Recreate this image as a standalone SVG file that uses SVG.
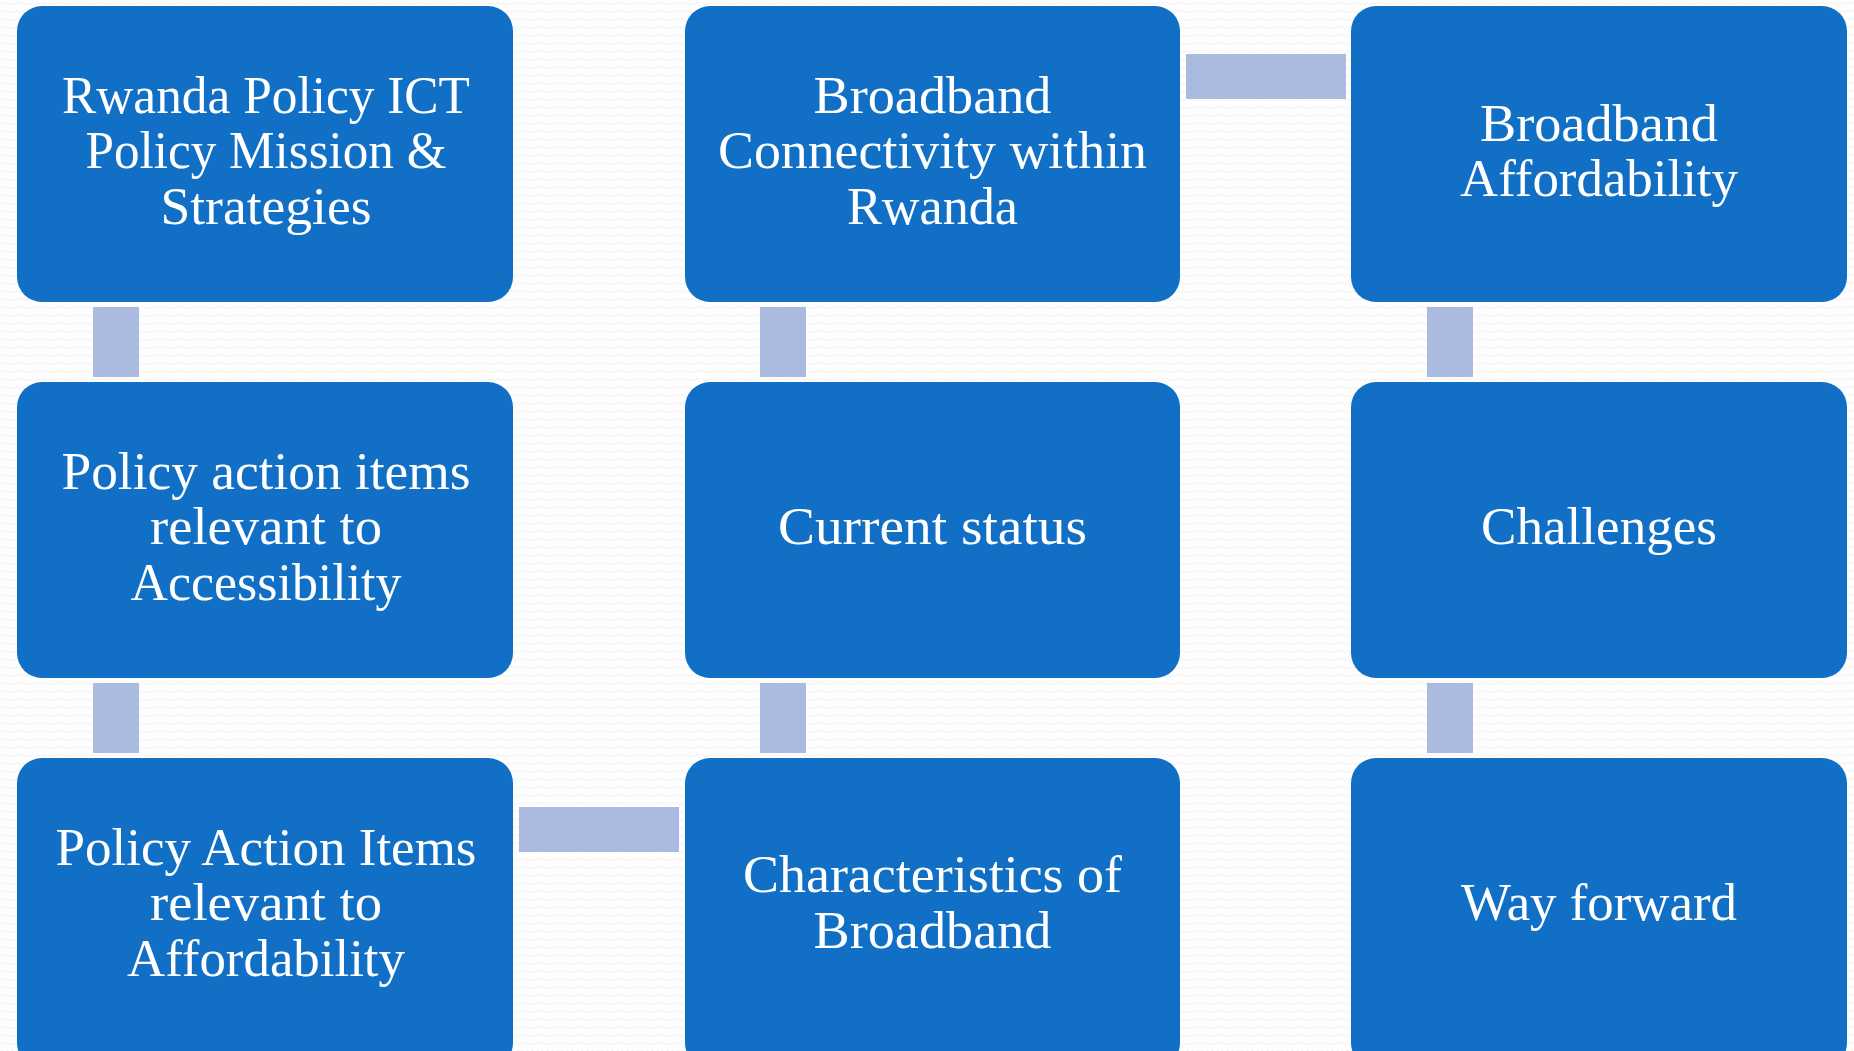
<svg xmlns="http://www.w3.org/2000/svg" width="1854" height="1051" viewBox="0 0 1854 1051">
<defs>
<pattern id="bg" width="10" height="8" patternUnits="userSpaceOnUse">
<rect width="10" height="8" fill="#ffffff"/>
<path d="M0,5 L2.5,2 L5,5 L7.5,2 L10,5" fill="none" stroke="#f0f0f2" stroke-width="1"/>
</pattern>
<style>
.box{fill:#1170C5;}
.conn{fill:#ABBBDF;}
.t{font-family:"Liberation Serif","Times New Roman",serif;font-size:52px;fill:#ffffff;text-anchor:middle;}
</style>
</defs>
<rect width="1854" height="1051" fill="url(#bg)"/>
<g id="connectors">
<rect class="conn" x="93" y="307" width="46" height="70"/>
<rect class="conn" x="93" y="683" width="46" height="70"/>
<rect class="conn" x="760" y="307" width="46" height="70"/>
<rect class="conn" x="760" y="683" width="46" height="70"/>
<rect class="conn" x="1427" y="307" width="46" height="70"/>
<rect class="conn" x="1427" y="683" width="46" height="70"/>
<rect class="conn" x="1186" y="54" width="160" height="45"/>
<rect class="conn" x="519" y="807" width="160" height="45"/>
</g>
<g id="n1">
<rect class="box" x="17" y="6" width="496" height="296" rx="25"/>
<text class="t"><tspan x="266" y="112.7" textLength="408" lengthAdjust="spacingAndGlyphs">Rwanda Policy ICT</tspan><tspan x="266" y="168.3" textLength="361" lengthAdjust="spacingAndGlyphs">Policy Mission &amp;</tspan><tspan x="266" y="223.8" textLength="211" lengthAdjust="spacingAndGlyphs">Strategies</tspan></text>
</g>
<g id="n2">
<rect class="box" x="17" y="382" width="496" height="296" rx="25"/>
<text class="t"><tspan x="266" y="488.7" textLength="409" lengthAdjust="spacingAndGlyphs">Policy action items</tspan><tspan x="266" y="544.3" textLength="232" lengthAdjust="spacingAndGlyphs">relevant to</tspan><tspan x="266" y="599.8" textLength="271" lengthAdjust="spacingAndGlyphs">Accessibility</tspan></text>
</g>
<g id="n3">
<rect class="box" x="17" y="758" width="496" height="310" rx="25"/>
<text class="t"><tspan x="266" y="864.5" textLength="421" lengthAdjust="spacingAndGlyphs">Policy Action Items</tspan><tspan x="266" y="920" textLength="232" lengthAdjust="spacingAndGlyphs">relevant to</tspan><tspan x="266" y="975.6" textLength="278" lengthAdjust="spacingAndGlyphs">Affordability</tspan></text>
</g>
<g id="n4">
<rect class="box" x="685" y="6" width="495" height="296" rx="25"/>
<text class="t"><tspan x="932.5" y="112.7" textLength="238" lengthAdjust="spacingAndGlyphs">Broadband</tspan><tspan x="932.5" y="168.3" textLength="429" lengthAdjust="spacingAndGlyphs">Connectivity within</tspan><tspan x="932.5" y="223.8" textLength="171" lengthAdjust="spacingAndGlyphs">Rwanda</tspan></text>
</g>
<g id="n5">
<rect class="box" x="685" y="382" width="495" height="296" rx="25"/>
<text class="t" x="932.5" y="544.3" textLength="309" lengthAdjust="spacingAndGlyphs">Current status</text>
</g>
<g id="n6">
<rect class="box" x="685" y="758" width="495" height="310" rx="25"/>
<text class="t"><tspan x="932.5" y="892.3" textLength="379" lengthAdjust="spacingAndGlyphs">Characteristics of</tspan><tspan x="932.5" y="947.8" textLength="238" lengthAdjust="spacingAndGlyphs">Broadband</tspan></text>
</g>
<g id="n7">
<rect class="box" x="1351" y="6" width="496" height="296" rx="25"/>
<text class="t"><tspan x="1599" y="140.5" textLength="238" lengthAdjust="spacingAndGlyphs">Broadband</tspan><tspan x="1599" y="196" textLength="278" lengthAdjust="spacingAndGlyphs">Affordability</tspan></text>
</g>
<g id="n8">
<rect class="box" x="1351" y="382" width="496" height="296" rx="25"/>
<text class="t" x="1599" y="544.3" textLength="236" lengthAdjust="spacingAndGlyphs">Challenges</text>
</g>
<g id="n9">
<rect class="box" x="1351" y="758" width="496" height="310" rx="25"/>
<text class="t" x="1599" y="920" textLength="276" lengthAdjust="spacingAndGlyphs">Way forward</text>
</g>
</svg>
